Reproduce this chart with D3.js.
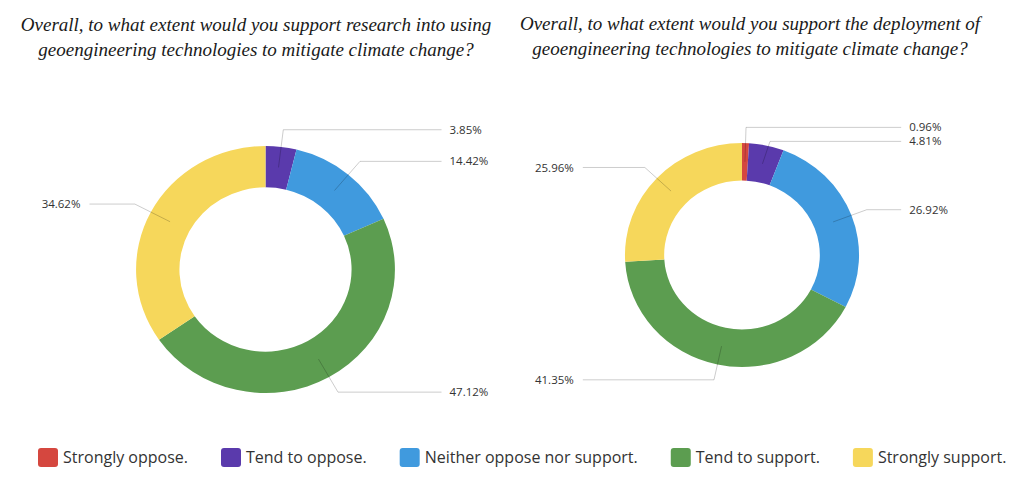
<html>
<head>
<meta charset="UTF-8">
<title>Geoengineering support</title>
<script src="https://d3js.org/d3.v7.min.js"></script>
<style>html,body{margin:0;padding:0;background:#fff;}</style>
</head>
<body>
<div id="container"></div>
<script>
const categories = ['Strongly oppose.', 'Tend to oppose.', 'Neither oppose nor support.', 'Tend to support.', 'Strongly support.']
const researchValues = [0, 3.85, 14.42, 47.12, 34.62]
const deploymentValues = [0.96, 4.81, 26.92, 41.35, 25.96]
const titleResearch = ['Overall, to what extent would you support research into using', 'geoengineering technologies to mitigate climate change?']
const titleDeployment = ['Overall, to what extent would you support the deployment of', 'geoengineering technologies to mitigate climate change?']

const colors = d3.scaleOrdinal()
    .domain(categories)
    .range(['#d5473f', '#5a3aac', '#409ade', '#5c9d50', '#f6d75b'])

const width = 1023, height = 490

const svg = d3.select('#container').append('svg')
    .attr('width', width)
    .attr('height', height)

function drawTitle(lines, cx, y0) {
    svg.append('text')
        .attr('text-anchor', 'middle')
        .attr('font-family', '"Liberation Serif", "Times New Roman", serif')
        .attr('font-style', 'italic')
        .attr('font-size', 19)
        .attr('fill', '#1a1a1a')
        .selectAll('tspan')
        .data(lines)
        .join('tspan')
        .attr('x', cx)
        .attr('y', (d, i) => y0 + i * 25)
        .text(d => d)
}

// donut: cx, cy centre, r vertical radius, sx horizontal stretch
function drawDonut(values, cx, cy, r, sx) {
    const data = categories.map((c, i) => ({ cat: c, value: values[i] }))
    const pie = d3.pie().sort(null).value(d => d.value)
    const arcs = pie(data).filter(d => d.data.value > 0)

    const arc = d3.arc().innerRadius(r * 0.665).outerRadius(r)
    const elbowArc = d3.arc().innerRadius(r * 1.14).outerRadius(r * 1.14)

    const g = svg.append('g')
        .attr('transform', 'translate(' + cx + ',' + cy + ') scale(' + sx + ',1)')

    g.selectAll('path')
        .data(arcs)
        .join('path')
        .attr('d', arc)
        .attr('fill', d => colors(d.data.cat))

    // label positions
    const labels = arcs.map(d => {
        const c = arc.centroid(d)
        const e = elbowArc.centroid(d)
        return {
            d: d,
            ax: cx + c[0] * sx, ay: cy + c[1],
            ex: cx + e[0] * sx, ey: cy + e[1],
            right: e[0] >= 0
        }
    })
    // push overlapping labels apart on each side
    ;[true, false].forEach(side => {
        const list = labels.filter(l => l.right === side).sort((a, b) => a.ey - b.ey)
        for (let i = 1; i < list.length; i++) {
            if (list[i].ey < list[i - 1].ey + 14) list[i].ey = list[i - 1].ey + 14
        }
    })

    const reach = r * sx * 1.36
    const lg = svg.append('g')
    lg.selectAll('polyline')
        .data(labels)
        .join('polyline')
        .attr('points', l => {
            const endX = l.right ? cx + reach : cx - reach
            return [[l.ax, l.ay], [l.ex, l.ey], [endX, l.ey]].map(p => p.join(',')).join(' ')
        })
        .attr('fill', 'none')
        .attr('stroke', '#000')
        .attr('stroke-opacity', 0.2)
        .attr('stroke-width', 1)

    lg.selectAll('text')
        .data(labels)
        .join('text')
        .attr('x', l => l.right ? cx + reach + 8 : cx - reach - 9)
        .attr('y', l => l.ey)
        .attr('dy', '0.35em')
        .attr('text-anchor', l => l.right ? 'start' : 'end')
        .attr('font-family', '"Open Sans", sans-serif')
        .attr('font-size', 11.5)
        .attr('fill', '#333')
        .text(l => l.d.data.value.toFixed(2) + '%')
}

drawTitle(titleResearch, 256, 31)
drawTitle(titleDeployment, 750, 30)
drawDonut(researchValues, 265.5, 269.5, 123.5, 1.048)
drawDonut(deploymentValues, 742, 255, 112, 1.045)

// legend laid out left to right
const legend = svg.append('g').attr('transform', 'translate(38,448)')
let lx = 0
categories.forEach(c => {
    const item = legend.append('g').attr('transform', 'translate(' + lx + ',0)')
    item.append('rect')
        .attr('width', 20).attr('height', 19)
        .attr('rx', 3)
        .attr('fill', colors(c))
    const t = item.append('text')
        .attr('x', 25)
        .attr('y', 15)
        .attr('font-family', '"Open Sans", sans-serif')
        .attr('font-size', 16)
        .attr('fill', '#333')
        .text(c)
    lx += 25 + t.node().getComputedTextLength() + 33
})
</script>
</body>
</html>
